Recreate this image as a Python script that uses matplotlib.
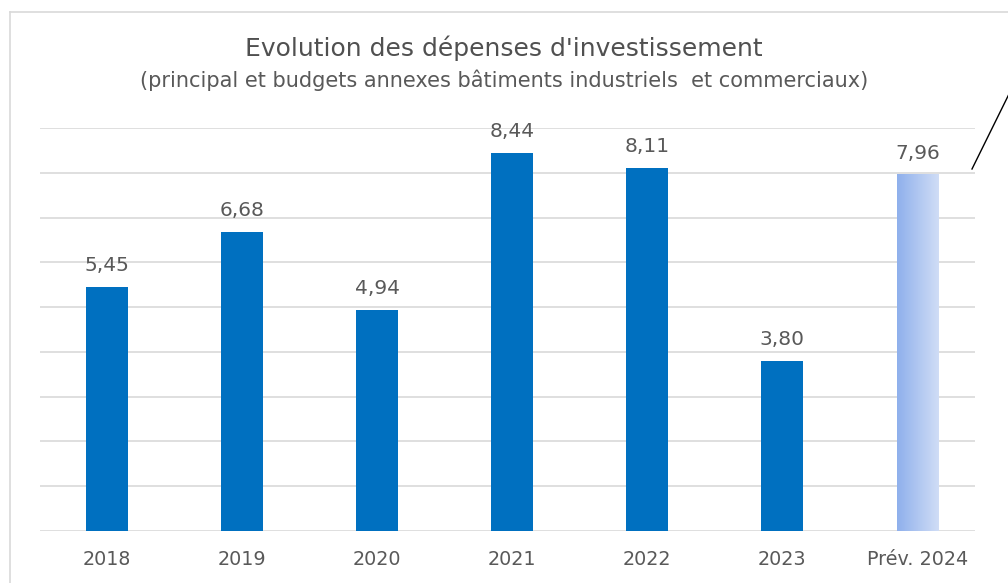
import numpy as np
import matplotlib
matplotlib.use("Agg")
import matplotlib.pyplot as plt
from matplotlib.colors import LinearSegmentedColormap

categories = ["2018", "2019", "2020", "2021", "2022", "2023", "Prév. 2024"]
values = [5.45, 6.68, 4.94, 8.44, 8.11, 3.80, 7.96]
labels = ["5,45", "6,68", "4,94", "8,44", "8,11", "3,80", "7,96"]

W, H = 1008, 583
fig = plt.figure(figsize=(W / 100, H / 100), dpi=100)
fig.patch.set_facecolor("white")

text_color = "#595959"
bar_color = "#0070c0"
font = "DejaVu Sans"

# chart frame
fig.add_artist(plt.Line2D([10 / W, 10 / W], [0, 1 - 12 / H], color="#d9d9d9", lw=1.2))
fig.add_artist(plt.Line2D([10 / W, 1], [1 - 12 / H, 1 - 12 / H], color="#d9d9d9", lw=1.2))

ax = fig.add_axes([40 / W, 1 - 531 / H, 935 / W, 403 / H])
xlim = (-0.496, 6.426)
ax.set_yticks(np.arange(0, 10, 1))
ax.yaxis.grid(True, color="#d9d9d9", lw=1.2)
ax.set_axisbelow(True)
for s in ax.spines.values():
    s.set_visible(False)
ax.tick_params(left=False, bottom=False, labelleft=False)
ax.set_xticks(range(len(categories)))
ax.set_xticklabels(categories, fontsize=13.8, color=text_color, family=font)
ax.tick_params(axis="x", pad=10)

x = np.arange(len(categories))
width = 0.31
ax.bar(x[:-1], values[:-1], width=width, color=bar_color, zorder=2)

# forecast bar with horizontal gradient
cmap = LinearSegmentedColormap.from_list("prev", ["#8fb0ec", "#d0ddf6"])
grad = np.linspace(0, 1, 256).reshape(1, -1)
xl = x[-1] - width / 2
ax.imshow(grad, cmap=cmap, aspect="auto",
          extent=[xl, xl + width, 0, values[-1]], zorder=2)
ax.set_xlim(*xlim)
ax.set_ylim(0, 9)

for xi, v, lab in zip(x, values, labels):
    ax.annotate(lab, (xi, v), xytext=(0, 8.5), textcoords="offset points",
                ha="center", va="bottom", fontsize=14.5, color=text_color, family=font)

fig.text(0.5, 1 - 48 / H, "Evolution des dépenses d'investissement", ha="center",
         va="center", fontsize=18, color="#505050", family=font)
fig.text(0.5, 1 - 80 / H,
         "(principal et budgets annexes bâtiments industriels  et commerciaux)",
         ha="center", va="center", fontsize=15, color=text_color, family=font)

# leader line at top right
fig.add_artist(plt.Line2D([972 / W, 1010 / W], [1 - 169 / H, 1 - 92 / H], color="black", lw=1))

fig.savefig("out.png", dpi=100, facecolor="white")
